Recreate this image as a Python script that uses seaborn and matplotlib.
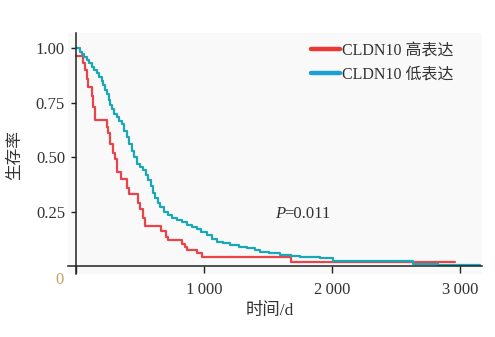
import numpy as np
import pandas as pd
import matplotlib
matplotlib.use("Agg")
import matplotlib.pyplot as plt
from matplotlib.lines import Line2D
import seaborn as sns

# ---- data ----
high_time = [0, 57, 70, 83, 96, 122, 135, 148, 240, 252, 266, 290, 305, 318, 350,
             400, 415, 487, 500, 520, 539, 665, 700, 719, 825, 850, 865, 943, 982,
             1680, 2960]
high_surv = [0.965, 0.93, 0.90, 0.86, 0.82, 0.78, 0.73, 0.67, 0.64, 0.61, 0.56, 0.52,
             0.49, 0.43, 0.40, 0.36, 0.33, 0.29, 0.26, 0.22, 0.185, 0.16, 0.135, 0.12,
             0.10, 0.085, 0.075, 0.06, 0.043, 0.019, 0.019]

low_time = [0, 30, 44, 60, 83, 100, 122, 140, 162, 180, 200, 215, 228, 240, 255, 268,
            279, 295, 318, 340, 357, 375, 396, 415, 435, 455, 474, 500, 526, 545, 565,
            585, 604, 620, 640, 656, 690, 721, 750, 786, 830, 865, 905, 943, 980, 1021,
            1060, 1099, 1150, 1203, 1270, 1333, 1400, 1437, 1510, 1594, 1680, 1750,
            1830, 1906, 2008, 2633, 2830, 3160]
low_surv = [1.0, 0.985, 0.975, 0.96, 0.945, 0.93, 0.915, 0.90, 0.885, 0.87, 0.85, 0.83,
            0.81, 0.79, 0.76, 0.74, 0.72, 0.70, 0.685, 0.665, 0.65, 0.62, 0.59, 0.56,
            0.53, 0.50, 0.47, 0.455, 0.44, 0.42, 0.395, 0.365, 0.333, 0.31, 0.29, 0.27,
            0.25, 0.234, 0.22, 0.21, 0.20, 0.19, 0.18, 0.17, 0.157, 0.142, 0.125, 0.112,
            0.104, 0.096, 0.088, 0.082, 0.073, 0.066, 0.058, 0.05, 0.046, 0.043, 0.039,
            0.035, 0.025, 0.011, 0.005, 0.005]

group_labels = ["CLDN10 高表达", "CLDN10 低表达"]
group_colors = ["#e8444c", "#1ba8b6"]
legend_colors = ["#e8382f", "#1e9fd4"]
x_ticks = [0, 1000, 2000, 3000]
x_ticklabels = ["", "1\u2009000", "2\u2009000", "3\u2009000"]
y_ticks = [0.25, 0.50, 0.75, 1.00]
y_ticklabels = ["0.25", "0.50", "0.75", "1.00"]
p_text = "=0.011"

df = pd.concat([
    pd.DataFrame({"time": high_time, "surv": high_surv, "group": group_labels[0]}),
    pd.DataFrame({"time": low_time, "surv": low_surv, "group": group_labels[1]}),
], ignore_index=True)

sns.set_theme(style="white")
fonts = ["Liberation Serif", "Noto Sans CJK SC", "DejaVu Sans"]
plt.rcParams["font.family"] = fonts
plt.rcParams["axes.unicode_minus"] = False

W, H = 495, 337
fig = plt.figure(figsize=(W / 100, H / 100), dpi=100)
fig.patch.set_facecolor("white")
ax = fig.add_axes([68 / W, (H - 274) / H, 414 / W, 241 / H])
ax.set_facecolor("#f9f9f9")

sns.lineplot(data=df, x="time", y="surv", hue="group", hue_order=group_labels,
             palette=dict(zip(group_labels, group_colors)), drawstyle="steps-post",
             estimator=None, linewidth=1.6, legend=False, ax=ax)

ax.set_xlim(-62, 3172)
ax.set_ylim(-0.037, 1.07)
for s in ["top", "right"]:
    ax.spines[s].set_visible(False)
for s in ["left", "bottom"]:
    ax.spines[s].set_position(("data", 0))
    ax.spines[s].set_color("#222222")
    ax.spines[s].set_linewidth(1.1)

ax.set_xticks(x_ticks)
ax.set_xticklabels(x_ticklabels)
ax.set_yticks(y_ticks)
ax.set_yticklabels(y_ticklabels)
ax.tick_params(axis="x", direction="out", length=5.2, width=1.0, color="#222222",
               pad=6.5, labelsize=12, labelcolor="#333333", bottom=True)
ax.tick_params(axis="y", direction="out", length=3.8, width=1.0, color="#222222",
               pad=4, labelsize=12, labelcolor="#333333", left=True)

ax.set_xlabel("时间/d", fontsize=12.5, color="#333333")
ax.set_ylabel("生存率", fontsize=12, color="#333333")
ax.xaxis.set_label_coords((270 - 68) / 414, (274 - 303) / 241)
ax.yaxis.set_label_coords((23 - 68) / 414, (274 - 155) / 241)

fig.text(60 / W, 1 - 280 / H, "0", ha="center", va="center", fontsize=12,
         color="#c9a063")

ax.text(1555, 0.24, "P", fontsize=12, style="italic", color="#333333",
        ha="left", va="center")
ax.text(1630, 0.24, p_text, fontsize=12, color="#333333", ha="left", va="center")

handles = [Line2D([0], [0], color=c, lw=3.2) for c in legend_colors]
ax.legend(handles, group_labels, loc="upper left",
          bbox_to_anchor=(311 / W, 1 - 43 / H), bbox_transform=fig.transFigure,
          frameon=False, fontsize=11.5, handlelength=1.8, handletextpad=0.15,
          borderpad=0, borderaxespad=0, labelspacing=0.5, labelcolor="#333333")

fig.savefig("out.png", dpi=100, facecolor="white")
